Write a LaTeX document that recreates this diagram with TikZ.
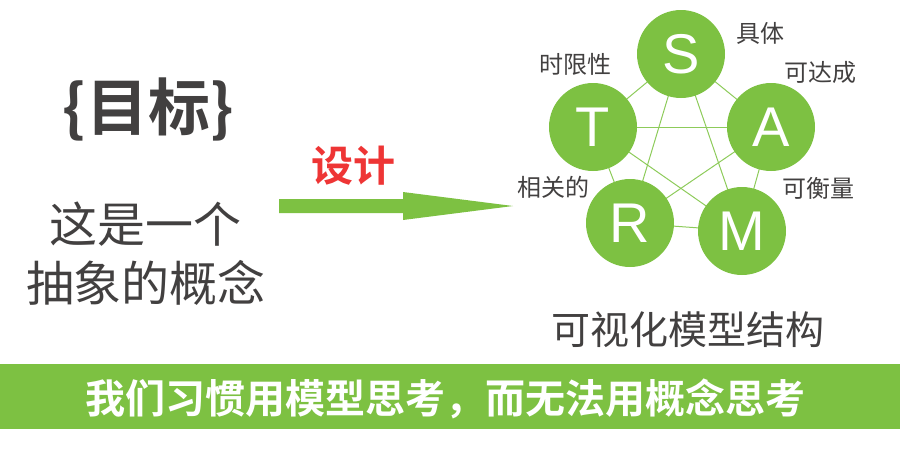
\documentclass[tikz,border=0pt]{standalone}
\usepackage{fontspec}
\setmainfont{Noto Sans CJK SC}[BoldFont={Noto Sans CJK SC Bold}]
\newfontfamily\latinfont{Liberation Sans}
\definecolor{leaf}{HTML}{7DC142}
\definecolor{leafline}{HTML}{8DCB5A}
\definecolor{inkgray}{HTML}{424040}
\definecolor{redword}{HTML}{EE3535}
\pgfdeclarelayer{bg}
\pgfsetlayers{bg,main}
\tikzset{
  ball/.style={circle,fill=leaf,minimum size=88pt,inner sep=0pt,text=white,
    font=\latinfont\fontsize{56}{56}\selectfont},
  tag/.style={text=inkgray,font=\fontsize{24}{26}\selectfont,inner sep=0pt},
  link/.style={draw=leafline,line width=1pt}
}
\begin{document}
\begin{tikzpicture}[x=1pt,y=-1pt]
\useasboundingbox (0,0) rectangle (900,459);
% left block
\node[text=inkgray,font=\bfseries\fontsize{62}{66}\selectfont,inner sep=0pt] (goal) at (148,109) {\{目标\}};
\node[text=inkgray,font=\fontsize{48}{57}\selectfont,inner sep=0pt,align=center] (abs) at (146,254) {这是一个\\[2pt]抽象的概念};
% arrow
\node[text=redword,font=\bfseries\fontsize{42}{46}\selectfont,inner sep=0pt] (design) at (353,166) {设计};
\coordinate (atop) at (279,199);
\coordinate (abot) at (279,213);
\coordinate (atip) at (513,206);
\fill[leaf] (atop) -- (403,199) -- (403,192) -- (atip) -- (403,220) -- (403,213) -- (abot) -- cycle;
% circles
\node[ball] (S) at (681,54) {S};
\node[ball] (A) at (771,127) {A};
\node[ball] (T) at (593,127) {T};
\node[ball] (R) at (630,223) {R};
\node[ball] (M) at (742,231) {M};
\begin{pgfonlayer}{bg}
\draw[link] (S.center) -- (A.center);
\draw[link] (A.center) -- (M.center);
\draw[link] (M.center) -- (R.center);
\draw[link] (R.center) -- (T.center);
\draw[link] (T.center) -- (S.center);
\draw[link] (S.center) -- (R.center);
\draw[link] (S.center) -- (M.center);
\draw[link] (T.center) -- (A.center);
\draw[link] (T.center) -- (M.center);
\draw[link] (A.center) -- (R.center);
\end{pgfonlayer}
% labels
\node[tag] (lS) at (760,33) {具体};
\node[tag] (lA) at (820,72) {可达成};
\node[tag] (lT) at (575,64) {时限性};
\node[tag] (lR) at (553,187) {相关的};
\node[tag] (lM) at (818,188) {可衡量};
\node[text=inkgray,font=\fontsize{39}{42}\selectfont,inner sep=0pt] (cap) at (688,330) {可视化模型结构};
% banner
\fill[leaf] (0,364) rectangle (900,429);
\node[text=white,font=\bfseries\fontsize{40}{44}\selectfont,inner sep=0pt] (slogan) at (445,399) {我们习惯用模型思考，而无法用概念思考};
\end{tikzpicture}
\end{document}
